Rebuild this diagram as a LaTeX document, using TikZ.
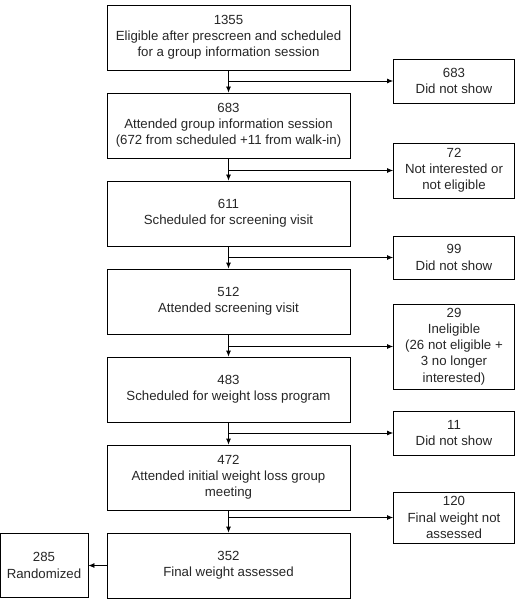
\documentclass[tikz,border=0pt]{standalone}
\usepackage{fontspec}
\setmainfont{Liberation Sans}
\usetikzlibrary{arrows.meta}
\tikzset{
    flowbox/.style={draw, line width=0.8bp, align=center, inner sep=0pt,
        font=\fontsize{13.3}{16.2}\selectfont, text=black!85},
    mainbox/.style={flowbox, minimum width=243bp, minimum height=65bp},
    sidebox/.style={flowbox, minimum width=121bp},
    arr/.style={line width=0.8bp, -{Latex[length=6bp, width=5bp]}}
}
\begin{document}
\begin{tikzpicture}[x=1bp, y=-1bp]
    \useasboundingbox (0, 0) rectangle (516, 599);
    \node[mainbox] (prescreen) at(228.5, 37.5) {1355\\Eligible after prescreen and scheduled\\for a group information session};
    \node[mainbox] (session) at(228.5, 125.5) {683\\Attended group information session\\(672 from scheduled +11 from walk-in)};
    \node[mainbox] (screensched) at(228.5, 213.5) {611\\Scheduled for screening visit};
    \node[mainbox] (screenvisit) at(228.5, 301.5) {512\\Attended screening visit};
    \node[mainbox] (programsched) at(228.5, 389.5) {483\\Scheduled for weight loss program};
    \node[mainbox] (initial) at(228.5, 477.5) {472\\Attended initial weight loss group\\meeting};
    \node[mainbox] (assessed) at(228.5, 565.5) {352\\Final weight assessed};
    \node[sidebox, minimum height=44bp] (noshowa) at(454, 81) {683\\Did not show};
    \node[sidebox, minimum height=55bp] (notint) at(454, 170.5) {72\\Not interested or\\not eligible};
    \node[sidebox, minimum height=43bp] (noshowb) at(454, 257.5) {99\\Did not show};
    \node[sidebox, minimum height=85bp] (inelig) at(454, 346.5) {29\\Ineligible\\(26 not eligible +\\3 no longer\\interested)};
    \node[sidebox, minimum height=44bp] (noshowc) at(454, 433) {11\\Did not show};
    \node[sidebox, minimum height=51bp] (notassessed) at(454, 517.5) {120\\Final weight not\\assessed};
    \node[flowbox, minimum width=88bp, minimum height=64bp] (random) at(44, 565.5) {285\\Randomized};
    \draw[arr] (prescreen) -- (session);
    \draw[arr] (session) -- (screensched);
    \draw[arr] (screensched) -- (screenvisit);
    \draw[arr] (screenvisit) -- (programsched);
    \draw[arr] (programsched) -- (initial);
    \draw[arr] (initial) -- (assessed);
    \draw[arr] (prescreen.south |- noshowa.west) -- (noshowa.west);
    \draw[arr] (session.south |- notint.west) -- (notint.west);
    \draw[arr] (screensched.south |- noshowb.west) -- (noshowb.west);
    \draw[arr] (screenvisit.south |- inelig.west) -- (inelig.west);
    \draw[arr] (programsched.south |- noshowc.west) -- (noshowc.west);
    \draw[arr] (initial.south |- notassessed.west) -- (notassessed.west);
    \draw[arr] (assessed) -- (random);
\end{tikzpicture}
\end{document}
